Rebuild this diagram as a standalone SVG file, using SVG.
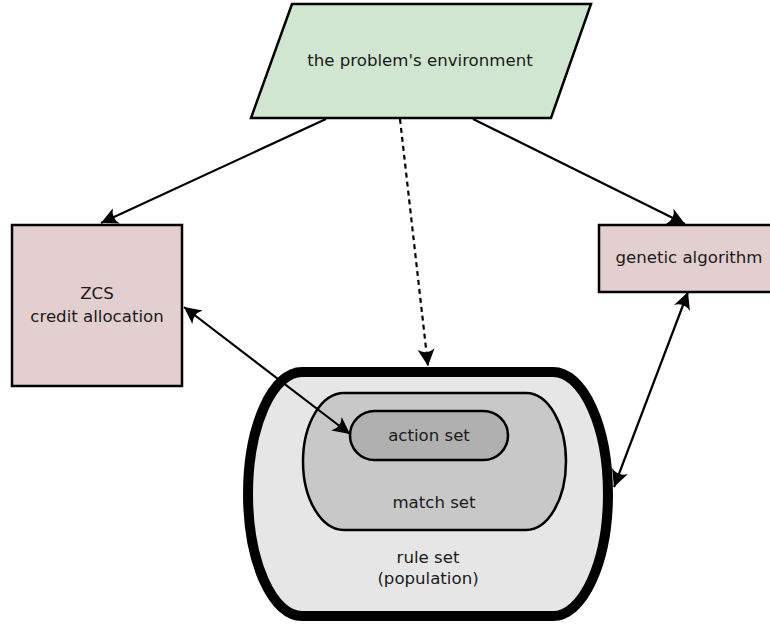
<svg xmlns="http://www.w3.org/2000/svg" width="770" height="626" viewBox="0 0 770 626">
<style>
text{font-family:"DejaVu Sans","Liberation Sans",sans-serif;font-size:16.6px;fill:#1a1a1a;text-anchor:middle}
.n{stroke:#000;stroke-width:2.5}
.c{fill:none;stroke:#000;stroke-width:2.2}
</style>
<defs>
<marker id="ah" viewBox="-19 -10 21 20" refX="0" refY="0" markerWidth="21" markerHeight="20" markerUnits="userSpaceOnUse" orient="auto-start-reverse">
<path d="M0,0 L-17,-8.5 Q-11,0 -17,8.5 Z" fill="#000"/>
</marker>
</defs>
<rect width="770" height="626" fill="#fff"/>
<g id="connectors">
<line class="c" x1="326" y1="119" x2="101" y2="223" marker-end="url(#ah)"/>
<line class="c" x1="400" y1="119" x2="428" y2="366" stroke-dasharray="5,4" marker-end="url(#ah)"/>
<line class="c" x1="473" y1="119" x2="685" y2="224" marker-end="url(#ah)"/>
</g>
<g id="environment">
<polygon class="n" points="292,4 591,4 551,118 251,118" fill="#d0e6d0"/>
<text x="420" y="66">the problem's environment</text>
</g>
<g id="zcs">
<rect class="n" x="12" y="225" width="170" height="161" fill="#e3cfcf"/>
<text x="97" y="299">ZCS</text>
<text x="97" y="322">credit allocation</text>
</g>
<g id="ga">
<rect class="n" x="599" y="225" width="175" height="67" fill="#e3cfcf"/>
<text x="689" y="263">genetic algorithm</text>
</g>
<g id="ruleset">
<path d="M302,372 L553,372 A55,122 0 0 1 553,616 L302,616 A54,122 0 0 1 302,372 Z" fill="#e6e6e6" stroke="#000" stroke-width="10"/>
<text x="428" y="563">rule set</text>
<text x="428" y="584">(population)</text>
</g>
<g id="matchset">
<path class="n" d="M344,393 L526,393 A40,68.5 0 0 1 526,530 L344,530 A41,68.5 0 0 1 344,393 Z" fill="#c8c8c8"/>
<text x="434" y="508">match set</text>
</g>
<g id="actionset">
<rect class="n" x="350" y="411" width="158" height="49" rx="24.5" fill="#b0b0b0"/>
<text x="429" y="441">action set</text>
</g>
<g id="connectors2">
<line class="c" x1="184" y1="307" x2="350" y2="434" marker-start="url(#ah)" marker-end="url(#ah)"/>
<line class="c" x1="688" y1="292" x2="614" y2="487" marker-start="url(#ah)" marker-end="url(#ah)"/>
</g>
</svg>
